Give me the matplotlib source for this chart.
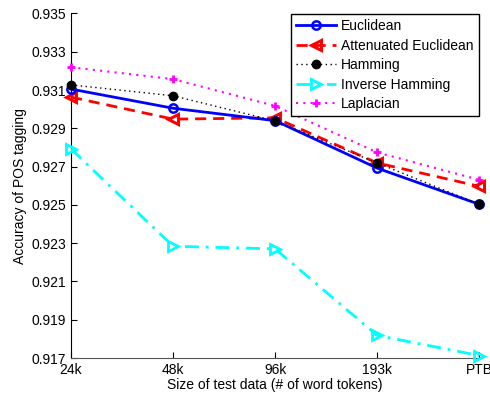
import matplotlib
matplotlib.use('Agg')
import matplotlib.pyplot as plt

plt.rcParams['font.family'] = ['Liberation Sans', 'DejaVu Sans']

sizes = ['24k', '48k', '96k', '193k', 'PTB']
euclidean = [0.93105, 0.93005, 0.92940, 0.92692, 0.92503]
att_euclidean = [0.93063, 0.92948, 0.92955, 0.92719, 0.92597]
hamming = [0.93127, 0.93070, 0.92939, 0.92719, 0.92503]
inv_hamming = [0.92792, 0.92284, 0.92270, 0.91818, 0.91713]
laplacian = [0.93219, 0.93157, 0.93017, 0.92774, 0.92631]

x = list(range(1, len(sizes) + 1))

fig = plt.figure(figsize=(4.9, 3.98), dpi=100)
ax = fig.add_axes([0.145, 0.1005, 0.833, 0.8656])

ax.plot(x, euclidean, '-', color='#0000ff', lw=2, marker='o', ms=6,
        mfc='none', mew=1.8, label='Euclidean', clip_on=False, zorder=5)
ax.plot(x, att_euclidean, color='#ff0000', lw=2, ls=(0, (4, 2.5)), marker='<', ms=7,
        mfc='none', mew=2.2, label='Attenuated Euclidean', clip_on=False, zorder=4)
ax.plot(x, hamming, ls=(0, (1, 2.5)), color='black', lw=1, marker='o', ms=6,
        mfc='black', label='Hamming', clip_on=False, zorder=6)
ax.plot(x, inv_hamming, color='#00ffff', lw=2, ls=(0, (5, 2.5, 1, 2.5)), marker='>', ms=7,
        mfc='none', mew=2, label='Inverse Hamming', clip_on=False, zorder=3)
ax.plot(x, laplacian, ls=(0, (1, 2.5)), color='#ff00ff', lw=1.5, marker='+', ms=6,
        mew=2, label='Laplacian', clip_on=False, zorder=3)

ax.set_xlim(1, 5)
ax.set_ylim(0.917, 0.935)
ax.set_xticks(x)
ax.set_xticklabels(sizes)
ax.set_yticks([0.917, 0.919, 0.921, 0.923, 0.925, 0.927, 0.929, 0.931, 0.933, 0.935])
ax.set_yticklabels(['0.917', '0.919', '0.921', '0.923', '0.925', '0.927',
                    '0.929', '0.931', '0.933', '0.935'])
ax.tick_params(direction='in', length=4, labelsize=10)
ax.spines['top'].set_visible(False)
ax.spines['right'].set_visible(False)
ax.spines['bottom'].set_color('#555555')

ax.set_xlabel('Size of test data (# of word tokens)', fontsize=10, labelpad=1)
ax.set_ylabel('Accuracy of POS tagging', fontsize=10, labelpad=3)

leg = ax.legend(loc='upper right', fontsize=10, fancybox=False, framealpha=1,
                edgecolor='black', borderpad=0.35, labelspacing=0.4,
                handlelength=2.9, handletextpad=0.35, borderaxespad=0.05)
leg.get_frame().set_linewidth(1)

fig.savefig('out.png', dpi=100)
